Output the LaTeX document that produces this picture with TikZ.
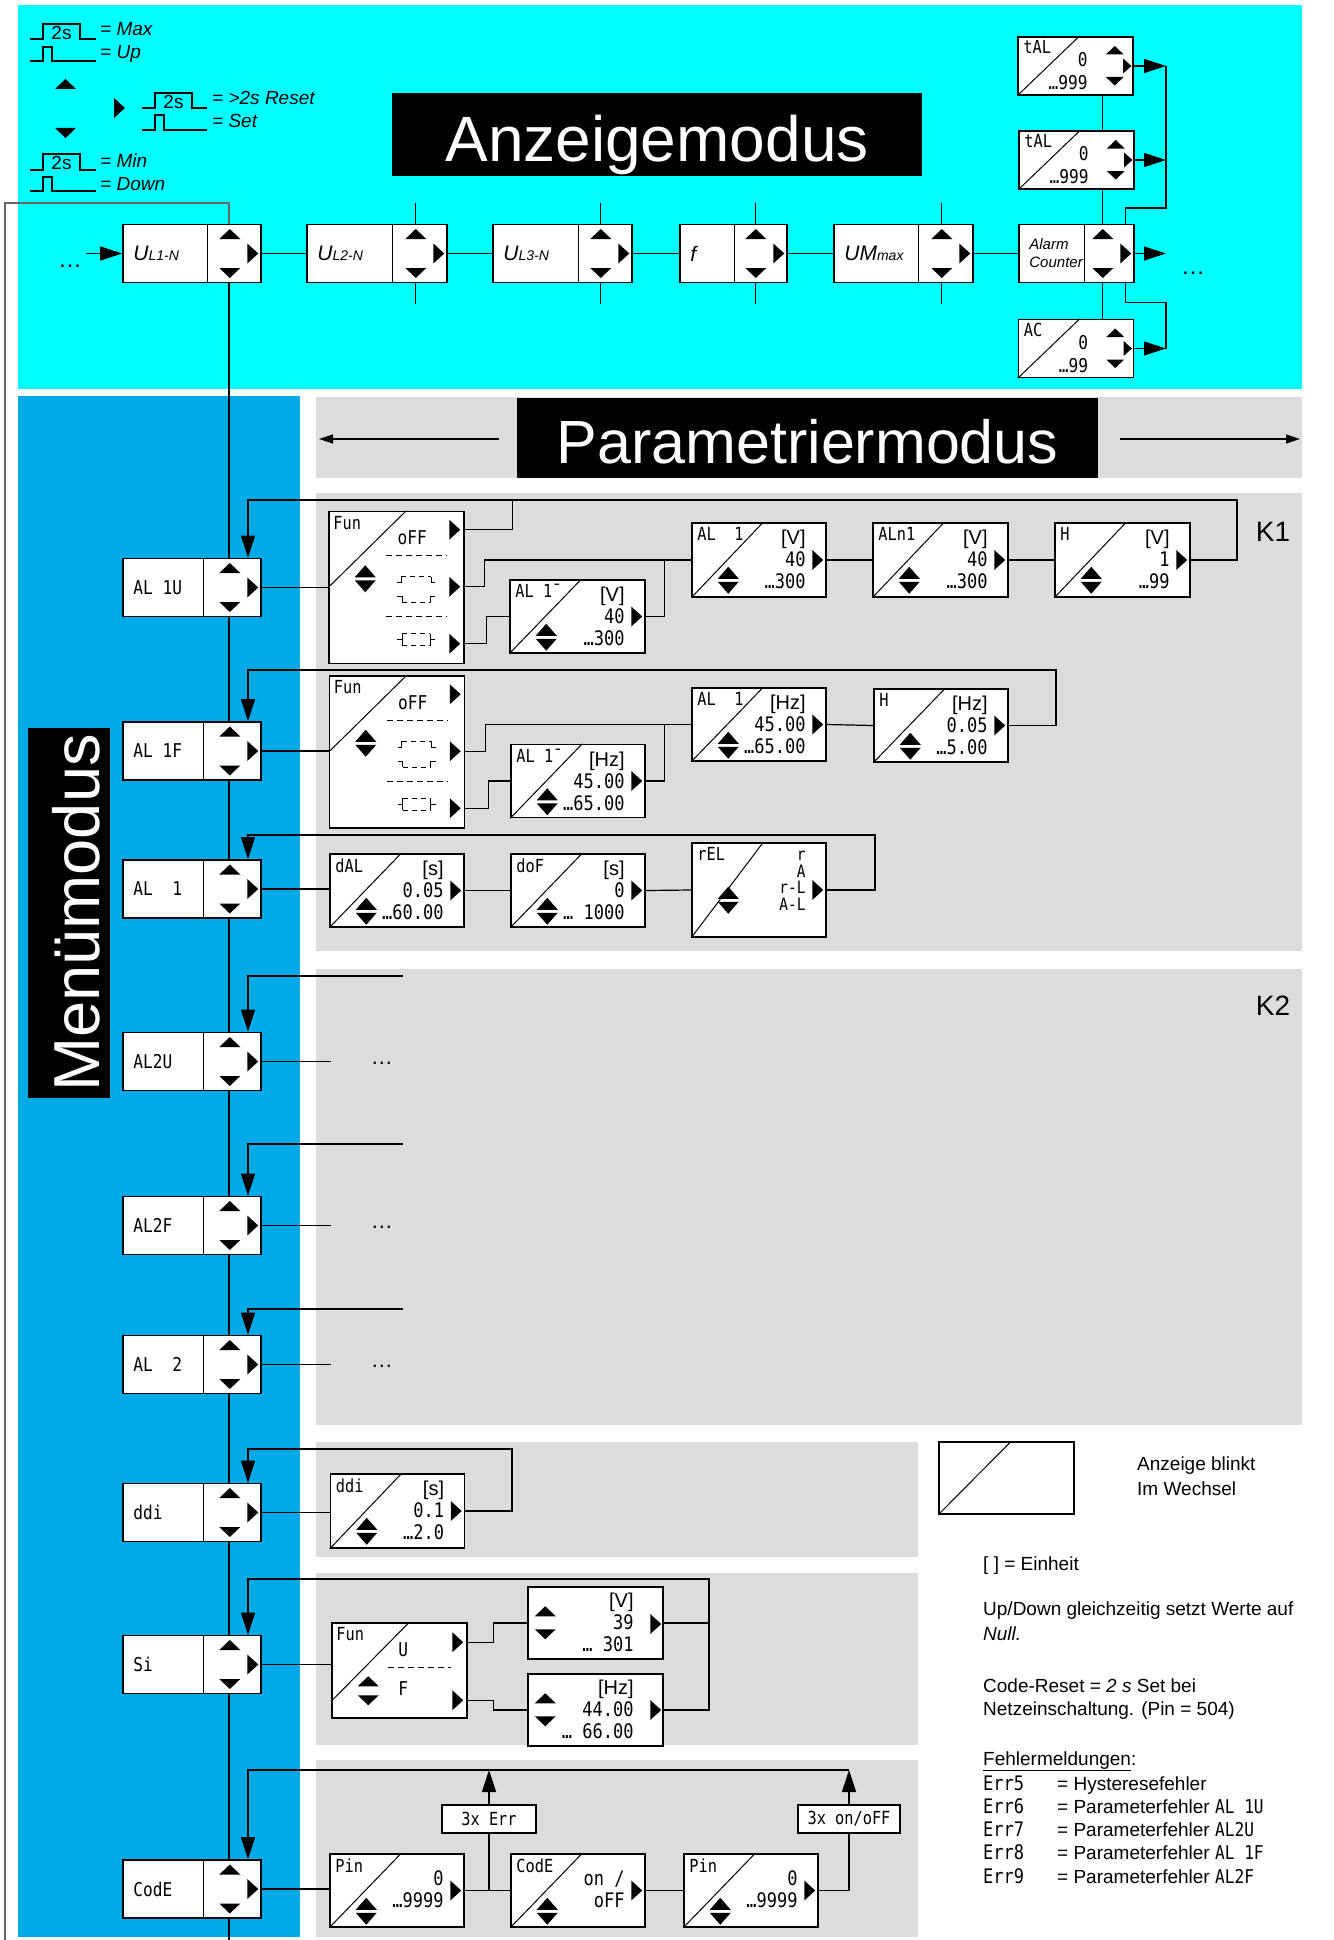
\documentclass[tikz,border=0pt]{standalone}
\usepackage{fontspec}
\setmainfont{Liberation Sans}
\newfontfamily\segfont[FakeStretch=0.85]{DejaVu Sans Mono}
\usetikzlibrary{arrows.meta, positioning, calc}

\definecolor{topcyan}{RGB}{0,255,255}
\definecolor{menublue}{RGB}{0,170,230}
\definecolor{panelgray}{RGB}{220,220,220}

\newcommand\fsz[1]{\fontsize{#1}{#1}\selectfont}
\newcommand\un[1]{{\rmfamily #1}}
% filled key triangles (optional scale)
\newcommand\triup[2][1]{\fill (#2) ++(-10.5*#1,5*#1) -- ++(21*#1,0) -- ++(-10.5*#1,-10*#1) -- cycle;}
\newcommand\tridn[2][1]{\fill (#2) ++(-10.5*#1,-5*#1) -- ++(21*#1,0) -- ++(-10.5*#1,10*#1) -- cycle;}
\newcommand\trirt[2][1]{\fill (#2) ++(-5.5*#1,-10*#1) -- ++(0,20*#1) -- ++(11*#1,-10*#1) -- cycle;}
\newcommand\triud[1]{\fill (#1) ++(-10.5,-1.5) -- ++(21,0) -- ++(-10.5,-12) -- cycle;
  \fill (#1) ++(-10.5,1.5) -- ++(21,0) -- ++(-10.5,12) -- cycle;}
% menu / display box: label options, name, centre, width, key column, label
\newcommand\navbox[6][]{%
  \node[navbox, minimum width=#4] (#2) at (#3) {};
  \draw[conn] ($(#2.north east)+(-#5,0)$) -- ($(#2.south east)+(-#5,0)$);
  \node[navlbl, #1] (#2t) at ($(#2.west)+(11,0)$) {#6};
  \triup{$(#2.east)+(-32,-19.5)$}
  \tridn{$(#2.east)+(-32,19.5)$}
  \trirt{$(#2.east)+(-9,0)$}}
% blinking parameter box: options, name, centre, label, offset, values
\newcommand\valbox[6][]{%
  \node[valbox, #1] (#2) at (#3) {};
  \draw[thinl] (#2.south west) -- ($(#2.north west)+(72,0)$);
  \node[lbl] (#2t) at ($(#2.north west)+(6,5)$) {#4};
  \node[vals] (#2v) at ($(#2.north east)+(-21,#5)$) {#6};
  \triud{$(#2.north west)+(37,58)$}
  \trirt{$(#2.east)+(-9,0)$}}
% small alarm box
\newcommand\talbox[4]{%
  \node[valbox, minimum width=115pt, minimum height=58pt] (#1) at (#2) {};
  \draw[thinl] (#1.south west) -- ($(#1.north west)+(62,0)$);
  \node[lbl] (#1t) at ($(#1.north west)+(6,4)$) {#3};
  \node[vals, font=\segfont\fontsize{19}{23}\selectfont] (#1v) at ($(#1.north east)+(-46,16)$) {#4};
  \triup[0.85]{$(#1.north east)+(-19,14)$}
  \trirt[0.75]{$(#1.east)+(-6.5,0)$}
  \tridn[0.85]{$(#1.north east)+(-19,45)$}}
% function select box
\newcommand\funbox[2]{%
  \node[valbox, minimum width=135pt, minimum height=152pt] (#1) at (#2) {};
  \draw[thinl] (#1.west) -- ($(#1.north west)+(78,0)$);
  \node[lbl] (#1t) at ($(#1.north west)+(5,5)$) {Fun};
  \node[seg] (#1o) at ($(#1.north west)+(84,27)$) {oFF};
  \draw[dsh] ($(#1.north west)+(58,45)$) -- ++(61,0);
  \draw[dsh] ($(#1.north west)+(58,106)$) -- ++(61,0);
  \begin{scope}[shift={($(#1.north west)+(88,79)$)}, thinl]
    \draw (-19,-7) -- (-15,-7) -- (-15,-13);
    \draw[dash pattern=on 5pt off 4pt] (-15,-13) -- (15,-13);
    \draw (15,-13) -- (15,-7) -- (19,-7);
    \draw (-19,7) -- (-14,7) -- (-14,13);
    \draw[dash pattern=on 5pt off 4pt] (-14,13) -- (14,13);
    \draw (14,13) -- (14,7) -- (19,7);
  \end{scope}
  \begin{scope}[shift={($(#1.north west)+(88,129)$)}, thinl]
    \draw (-19,0) -- (-14,0) (-14,-6) -- (-14,6) (14,-6) -- (14,6) (14,0) -- (19,0);
    \draw[dash pattern=on 5pt off 4pt] (-14,-6) -- (14,-6) (-14,6) -- (14,6);
  \end{scope}
  \triud{$(#1.north west)+(37,68)$}
  \trirt{$(#1.north east)+(-10,19)$}
  \trirt{$(#1.north east)+(-10,76)$}
  \trirt{$(#1.north east)+(-10,133)$}
  \coordinate (#1p1) at ($(#1.north east)+(0,19)$);
  \coordinate (#1p2) at ($(#1.north east)+(0,76)$);
  \coordinate (#1p3) at ($(#1.north east)+(0,133)$);}

\begin{document}
\begin{tikzpicture}[x=1pt, y=-1pt,
  conn/.style={line width=1.2pt},
  arr/.style={line width=1.2pt, -{Triangle[length=22pt,width=14pt]}},
  parr/.style={line width=1.2pt, -{Triangle[length=14pt,width=9pt]}},
  navbox/.style={draw, fill=white, line width=1.6pt, minimum height=58pt, inner sep=0pt},
  navlbl/.style={anchor=west, inner sep=0pt, align=left},
  valbox/.style={draw, fill=white, line width=1.5pt, minimum width=134pt, minimum height=74pt, inner sep=0pt},
  thinl/.style={line width=1pt},
  lbl/.style={anchor=north west, inner sep=0pt, font=\segfont\fsz{18}},
  vals/.style={anchor=north east, inner sep=0pt, align=right, font=\segfont\fontsize{20}{22}\selectfont},
  seg/.style={inner sep=0pt, font=\segfont\fsz{19}},
  dsh/.style={line width=1pt, dash pattern=on 6pt off 4pt},
  note/.style={anchor=base west, inner sep=0pt, font=\fsz{19}},
  tag/.style={draw, fill=white, line width=1.2pt, minimum width=94pt, minimum height=28pt, inner sep=0pt, font=\segfont\fsz{18}},
]
\useasboundingbox (0,0) rectangle (1333,1940);

% areas
\fill[topcyan] (18,5) rectangle (1302,389);
\fill[menublue] (18,396) rectangle (300,1937);
\fill[panelgray] (316,397) rectangle (1302,478);
\fill[panelgray] (316,493) rectangle (1302,951);
\fill[panelgray] (316,969) rectangle (1302,1425);
\fill[panelgray] (316,1442) rectangle (918,1557);
\fill[panelgray] (316,1573) rectangle (918,1745);
\fill[panelgray] (316,1760) rectangle (918,1937);

% key legend
\draw[conn] (30,39) -- (43,39) -- (43,24) -- (80,24) -- (80,39) -- (96,39);
\draw[conn] (30,61) -- (43,61) -- (43,47) -- (52,47) -- (52,61) -- (96,61);
\draw[conn] (142,108) -- (155,108) -- (155,93) -- (192,93) -- (192,108) -- (207,108);
\draw[conn] (142,130) -- (155,130) -- (155,115) -- (164,115) -- (164,130) -- (207,130);
\draw[conn] (30,170) -- (43,170) -- (43,154) -- (80,154) -- (80,170) -- (96,170);
\draw[conn] (30,191) -- (43,191) -- (43,177) -- (52,177) -- (52,191) -- (96,191);
\node[font=\fsz{19}] (p1) at (61.5,33) {2s};
\node[font=\fsz{19}] (p2) at (173.5,102) {2s};
\node[font=\fsz{19}] (p3) at (61.5,163) {2s};
\node[note, font=\itshape\fsz{19}] (kmax) at (100,36) {= Max};
\node[note, font=\itshape\fsz{19}] (kup) at (100,59) {= Up};
\node[note, font=\itshape\fsz{19}] (kres) at (212,105) {= >2s Reset};
\node[note, font=\itshape\fsz{19}] (kset) at (212,128) {= Set};
\node[note, font=\itshape\fsz{19}] (kmin) at (100,167) {= Min};
\node[note, font=\itshape\fsz{19}] (kdn) at (100,190) {= Down};
\triup{65.5,84}
\trirt{119.5,108}
\tridn{65.5,133}

% titles
\node[fill=black, minimum width=530pt, minimum height=83pt, inner sep=0pt] (anz) at (657,134.5) {};
\node[anchor=base, text=white, font=\fsz{64}] (anzT) at (657,161) {Anzeigemodus};
\node[fill=black, minimum width=581pt, minimum height=80pt, inner sep=0pt] (pm) at (807.5,438) {};
\node[anchor=base, text=white, font=\fsz{61}] (pmT) at (807.5,463) {Parametriermodus};
\coordinate (pmL) at (319,439);
\coordinate (pmR) at (1300,439);
\draw[parr] ($(pm.west)+(-18,1)$) -- (pmL);
\draw[parr] ($(pm.east)+(22,1)$) -- (pmR);
\node[fill=black, minimum width=81.5pt, minimum height=370pt, inner sep=0pt] (mm) at (69,913) {};
\node[rotate=90, anchor=base, text=white, font=\fsz{65}] (mmT) at (99,913) {Menümodus};
\node[font=\fsz{28}] (k1) at (1273,532) {K1};
\node[font=\fsz{28}] (k2) at (1273,1006) {K2};

% display mode
\navbox{ul1}{192,253.5}{138pt}{54}{\itshape\fsz{21}U\fsz{14}L1-N}
\navbox{ul2}{377,253.5}{140pt}{55}{\itshape\fsz{21}U\fsz{14}L2-N}
\navbox{ul3}{562.5,253.5}{139pt}{54}{\itshape\fsz{21}U\fsz{14}L3-N}
\navbox{fbox}{733.5,253.5}{107pt}{53}{\itshape\fsz{21}f}
\navbox{umax}{903.5,253.5}{139pt}{55}{\itshape\fsz{21}UM\fsz{14}max}
\navbox[font=\itshape\fontsize{15}{18}\selectfont]{alarm}{1076.5,253.5}{115pt}{50}{Alarm\\Counter}
\talbox{tal1}{1075.5,66}{tAL}{0\\\ldots999}
\talbox{tal2}{1076.5,160}{tAL}{0\\\ldots999}
\talbox{ac}{1076,348.5}{AC}{0\\\ldots99}

\node[font=\fsz{24}, anchor=base] (dotsL) at (70,267) {\ldots};
\node[font=\fsz{24}, anchor=base] (dotsR) at (1193,274) {\ldots};
\coordinate (aout) at (1166,253.5);
\draw[arr] (dotsL.east |- ul1.west) -- (ul1.west);
\draw[arr] (alarm.east) -- (aout);
\foreach \a/\b in {ul1/ul2, ul2/ul3, ul3/fbox, fbox/umax, umax/alarm}
  {\draw[conn] (\a.east) -- (\b.west);}
\foreach \b in {ul2, ul3, fbox, umax}
  {\draw[conn] ($(\b.north east)+(-32,0)$) -- ++(0,-21);
   \draw[conn] ($(\b.south east)+(-32,0)$) -- ++(0,21);}

\coordinate (acol) at ($(alarm.east)+(-32,0)$);
\coordinate (rbus) at (1166,0);
\draw[conn] (tal1.south -| acol) -- (tal2.north -| acol);
\draw[conn] (tal2.south -| acol) -- (alarm.north -| acol);
\draw[conn] (alarm.south -| acol) -- (ac.north -| acol);
\draw[arr] (tal1.east) -- (tal1.east -| rbus);
\draw[arr] (tal2.east) -- (tal2.east -| rbus);
\draw[arr] (ac.east) -- (ac.east -| rbus);
\draw[conn] ($(alarm.north east)+(-9,0)$) |- ($(tal2.east -| rbus)+(0,48)$) -- (tal1.east -| rbus);
\draw[conn] ($(alarm.south east)+(-9,0)$) |- ($(ac.east -| rbus)+(0,-46)$) -- (ac.east -| rbus);

% menu mode
\foreach \n/\y/\t in {al1u/587.5/{AL 1U}, al1f/751/{AL 1F}, al1/889/{AL~~1}, al2u/1061.5/AL2U,
    al2f/1225.5/AL2F, al2/1364.5/{AL~~2}, ddi/1512.5/ddi, si/1664.5/Si, code/1889/CodE}
  {\navbox[font=\segfont\fsz{19}]{\n}{192,\y}{138pt}{58}{\t}}

\coordinate (mcol) at (229,0);
\coordinate (fbx) at (248,0);
\coordinate (bot) at (0,1940);
\coordinate (ltop) at (5,203);
\foreach \a/\b in {ul1/al1u, al1u/al1f, al1f/al1, al1/al2u, al2u/al2f, al2f/al2, al2/ddi, ddi/si, si/code}
  {\draw[conn] (\a.south -| mcol) -- (\b.north -| mcol);}
\draw[conn] (code.south -| mcol) -- (mcol |- bot);
\draw[conn, black!60] (ul1.north -| mcol) |- (ltop) -- (ltop |- bot);

% K1: AL 1U
\funbox{fun1}{396.5,587.5}
\valbox[minimum width=135pt, minimum height=73pt]{al1m}{577.5,616.5}{AL 1¯}{8}{\un{[V]}\\40\\\ldots300}
\valbox{al1v}{759,560}{AL~~1}{8}{\un{[V]}\\40\\\ldots300}
\valbox[minimum width=135pt]{aln1}{940.5,560}{ALn1}{8}{\un{[V]}\\40\\\ldots300}
\valbox[minimum width=135pt]{hv}{1122.5,560}{H}{8}{\un{[V]}\\1\\\ldots99}
\coordinate (k1a) at (1237,500);
\draw[conn] (al1u.east) -- (al1u.east -| fun1.west);
\draw[conn] (fun1p1) -- ++(48,0) |- (k1a);
\draw[conn] (fun1p2) -- ++(20,0) |- (al1v.west);
\draw[conn] (fun1p3) -- ++(22,0) |- (al1m.west);
\draw[conn] (al1m.east) -- ++(19,0) |- (al1v.west);
\draw[conn] (al1v.east) -- (aln1.west);
\draw[conn] (aln1.east) -- (hv.west);
\draw[arr] (hv.east) -| (k1a) -| (al1u.north -| fbx);

% K1: AL 1F
\funbox{fun2}{397,752}
\valbox[minimum height=73pt]{al1mf}{578,781}{AL 1¯}{8}{\un{[Hz]}\\45.00\\\ldots65.00}
\valbox[minimum height=73pt]{al1hz}{759,724.5}{AL~~1}{8}{\un{[Hz]}\\45.00\\\ldots65.00}
\valbox[minimum height=73pt]{hhz}{941,725.5}{H}{8}{\un{[Hz]}\\0.05\\\ldots5.00}
\coordinate (k1b) at (1056,670);
\draw[conn] (al1f.east) -- (al1f.east -| fun2.west);
\draw[conn] (fun2p2) -- ++(20,0) |- (al1hz.west);
\draw[conn] (fun2p3) -- ++(23,0) |- (al1mf.west);
\draw[conn] (al1mf.east) -- ++(19,0) |- (al1hz.west);
\draw[conn] (al1hz.east) -- (hhz.west);
\draw[arr] (hhz.east) -| (k1b) -| (al1f.north -| fbx);

% K1: AL 1
\valbox[minimum height=73pt]{dal}{397,890.5}{dAL}{8}{\un{[s]}\\0.05\\\ldots60.00}
\valbox[minimum height=73pt]{dof}{578,890.5}{doF}{8}{\un{[s]}\\0\\\ldots~1000}
\valbox[minimum height=94pt]{rel}{759,890}{rEL}{8}{}
\node[vals, font=\segfont\fontsize{17}{16.5}\selectfont] (relv) at ($(rel.north east)+(-21,9)$) {r\\A\\r-L\\A-L};
\coordinate (k1c) at (875,835);
\draw[conn] (al1.east) -- (al1.east -| dal.west);
\draw[conn] (dal.east) -- (dof.west);
\draw[conn] (dof.east) -- (rel.west);
\draw[arr] (rel.east) -| (k1c) -| (al1.north -| fbx);

% K2
\coordinate (k2a) at (403,976);
\coordinate (k2b) at (403,1144);
\coordinate (k2c) at (403,1309);
\draw[arr] (k2a) -| (al2u.north -| fbx);
\draw[arr] (k2b) -| (al2f.north -| fbx);
\draw[arr] (k2c) -| (al2.north -| fbx);
\foreach \b in {al2u, al2f, al2}
  {\draw[conn] (\b.east) -- ++(69,0);
   \node[font=\fsz{22}, anchor=base] (\b d) at ($(\b.east)+(120,3)$) {\ldots};}

% ddi
\valbox{ddv}{397.5,1511}{ddi}{8}{\un{[s]}\\0.1\\\ldots2.0}
\coordinate (ddr) at (512,1449);
\draw[conn] (ddi.east) -- (ddi.east -| ddv.west);
\draw[arr] (ddv.east) -| (ddr) -| (ddi.north -| fbx);

% Si
\node[valbox, minimum width=135pt, minimum height=95pt] (sfun) at (399.5,1670.5) {};
\draw[thinl] ($(sfun.north west)+(0,79)$) -- ($(sfun.north west)+(78,0)$);
\node[lbl] (sfunt) at ($(sfun.north west)+(5,5)$) {Fun};
\node[seg] (sfunu) at ($(sfun.north west)+(72,27)$) {U};
\draw[dsh] ($(sfun.north west)+(57,45)$) -- ++(63,0);
\node[seg] (sfunf) at ($(sfun.north west)+(72,66)$) {F};
\triup{$(sfun.north west)+(37,59)$}
\tridn{$(sfun.north west)+(37,78)$}
\trirt{$(sfun.north east)+(-10,20)$}
\trirt{$(sfun.north east)+(-10,78)$}
\coordinate (sfunp1) at ($(sfun.north east)+(0,20)$);
\coordinate (sfunp2) at ($(sfun.north east)+(0,78)$);
\node[valbox, minimum width=135pt, minimum height=72pt] (vb) at (595.5,1623) {};
\triup{$(vb.north west)+(18,25)$}
\tridn{$(vb.north west)+(18,48)$}
\trirt{$(vb.east)+(-8,1)$}
\node[vals] (vbv) at ($(vb.north east)+(-30,7)$) {\un{[V]}\\39\\\ldots~301};
\node[valbox, minimum width=135pt, minimum height=72pt] (hzb) at (595.5,1710) {};
\triup{$(hzb.north west)+(18,25)$}
\tridn{$(hzb.north west)+(18,48)$}
\trirt{$(hzb.east)+(-8,0)$}
\node[vals] (hzbv) at ($(hzb.north east)+(-30,7)$) {\un{[Hz]}\\44.00\\\ldots~66.00};
\coordinate (sir) at (709,1579);
\draw[conn] (si.east) -- (si.east -| sfun.west);
\draw[conn] (sfunp1) -- ++(26,0) |- (vb.west);
\draw[conn] (sfunp2) -- ++(26,0) |- (hzb.west);
\draw[conn] (vb.east) -- (vb.east -| sir);
\draw[arr] (hzb.east) -| (sir) -| (si.north -| fbx);

% CodE
\valbox[minimum height=73pt]{pin1}{397,1890.5}{Pin}{17}{0\\\ldots9999}
\valbox[minimum height=73pt]{codv}{578,1890.5}{CodE}{17}{on /\\oFF}
\valbox[minimum height=73pt]{pin2}{751,1890.5}{Pin}{17}{0\\\ldots9999}
\node[tag] (err3) at (489,1819) {3x Err};
\node[tag, minimum width=102pt] (onoff) at (849,1819) {3x on/oFF};
\coordinate (cdr) at (849,1770);
\draw[conn] (code.east) -- (code.east -| pin1.west);
\draw[conn] (pin1.east) -- (codv.west);
\draw[conn] (codv.east) -- (pin2.west);
\draw[conn] (err3.south) -- (err3.south |- pin1.east);
\draw[conn] (pin2.east) -| (onoff.south);
\draw[arr] (err3.north) -- (err3.north |- cdr);
\draw[arr] (onoff.north) -- (cdr);
\draw[arr] (cdr) -| (code.north -| fbx);

% notes
\node[valbox, minimum width=135pt, minimum height=72pt] (blink) at (1006.5,1478) {};
\draw[thinl] (blink.south west) -- ($(blink.north west)+(73,0)$);
\node[note] (lg1) at (1137,1470) {Anzeige blinkt};
\node[note] (lg2) at (1137,1495) {Im Wechsel};
\node[note] (lg3) at (983,1570) {[ ] = Einheit};
\node[note] (lg4) at (983,1615) {Up/Down gleichzeitig setzt Werte auf};
\node[note] (lg5) at (983,1640) {\itshape Null.};
\node[note] (lg6) at (983,1692) {Code-Reset = \textit{2 s} Set bei};
\node[note] (lg7) at (983,1715) {Netzeinschaltung. (Pin = 504)};
\node[note] (lg8) at (983,1765) {\underline{Fehlermeldungen}:};
\foreach \c/\t [count=\i] in {5/Hysteresefehler, 6/{Parameterfehler {\segfont AL 1U}},
    7/{Parameterfehler {\segfont AL2U}}, 8/{Parameterfehler {\segfont AL 1F}}, 9/{Parameterfehler {\segfont AL2F}}}
  {\node[note, font=\segfont\fsz{20}] (e\i) at (983,1766.7+23.3*\i) {Err\c};
   \node[note] (f\i) at (1057,1766.7+23.3*\i) {= \t};}
\end{tikzpicture}
\end{document}
